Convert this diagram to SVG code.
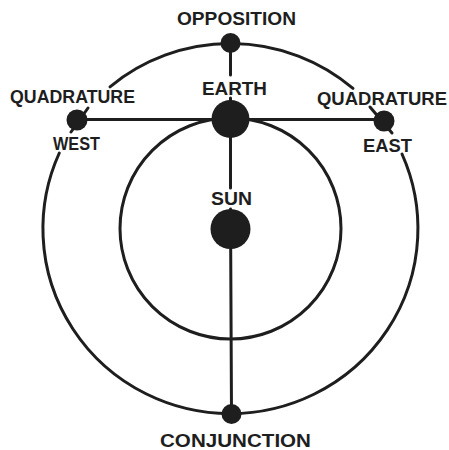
<svg xmlns="http://www.w3.org/2000/svg" width="449" height="450" viewBox="0 0 449 450">
<style>
.ln{fill:none;stroke:#1e1e1e;stroke-width:3;stroke-linecap:round}
.dot{fill:#1e1e1e}
.lb{font-family:"Liberation Sans","DejaVu Sans",Arial,sans-serif;font-weight:bold;font-size:18px;fill:#1e1e1e}
</style>
<rect width="449" height="450" fill="#ffffff"/>
<g id="connectors">
<circle class="ln" cx="230.5" cy="228.5" r="110.5"/>
<path class="ln" d="M110 86.8 A187.5 185 0 0 1 353 88.4"/>
<path class="ln" d="M402 154 A187.5 185 0 1 1 59.3 153"/>
<line class="ln" x1="77" y1="119.5" x2="384" y2="119.5"/>
<line class="ln" x1="230.5" y1="43" x2="230.5" y2="75"/>
<line class="ln" x1="230.5" y1="98" x2="230.5" y2="188"/>
<line class="ln" x1="230.5" y1="209" x2="231.5" y2="414"/>
<line class="ln" x1="88" y1="108" x2="71" y2="132"/>
<line class="ln" x1="370" y1="107" x2="392" y2="133"/>
</g>
<g id="opposition">
<circle class="dot" cx="230.5" cy="43" r="10"/>
<text class="lb" x="177" y="25" textLength="119" lengthAdjust="spacingAndGlyphs">OPPOSITION</text>
</g>
<g id="earth">
<circle class="dot" cx="230.5" cy="119" r="19"/>
<text class="lb" x="202" y="95" textLength="65" lengthAdjust="spacingAndGlyphs">EARTH</text>
</g>
<g id="sun">
<circle class="dot" cx="230.5" cy="229" r="20"/>
<text class="lb" x="211" y="205" textLength="41" lengthAdjust="spacingAndGlyphs">SUN</text>
</g>
<g id="conjunction">
<circle class="dot" cx="231.5" cy="414" r="10"/>
<text class="lb" x="160" y="447" textLength="151" lengthAdjust="spacingAndGlyphs">CONJUNCTION</text>
</g>
<g id="quadrature-west">
<circle class="dot" cx="77" cy="120" r="10.5"/>
<text class="lb" x="10" y="103" textLength="125" lengthAdjust="spacingAndGlyphs">QUADRATURE</text>
<text class="lb" x="53" y="150" textLength="47" lengthAdjust="spacingAndGlyphs">WEST</text>
</g>
<g id="quadrature-east">
<circle class="dot" cx="384" cy="121" r="10.5"/>
<text class="lb" x="317" y="105" textLength="130" lengthAdjust="spacingAndGlyphs">QUADRATURE</text>
<text class="lb" x="363" y="152" textLength="49" lengthAdjust="spacingAndGlyphs">EAST</text>
</g>
</svg>
